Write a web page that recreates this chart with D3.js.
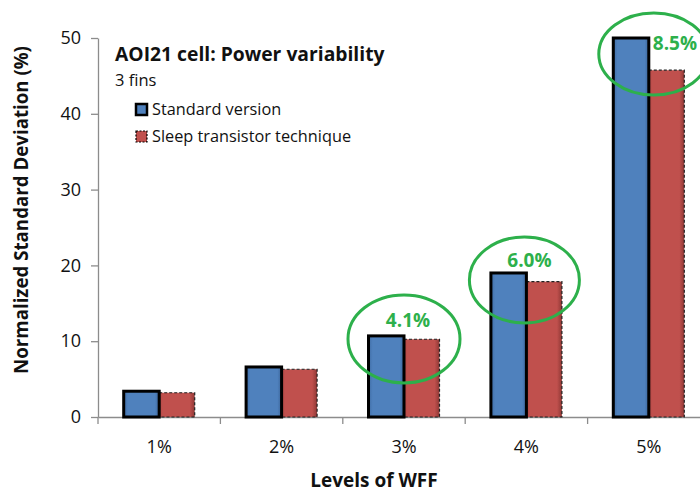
<!DOCTYPE html>
<html>
<head>
<meta charset="utf-8">
<script src="https://cdn.jsdelivr.net/npm/d3@7"></script>
<style>
  html, body { margin: 0; padding: 0; background: #fff; }
  svg { display: block; font-family: "Open Sans", sans-serif; }
</style>
</head>
<body>
<svg id="chart" width="700" height="493"></svg>
<script>
// WFF levels and normalized standard deviation of power (%)
const categories = ["1%", "2%", "3%", "4%", "5%"];
const standardValues = [3.4, 6.6, 10.7, 19.0, 50.0];
const sleepValues = [3.2, 6.3, 10.26, 17.86, 45.75];
const seriesNames = ["Standard version", "Sleep transistor technique"];
const yTicks = [0, 10, 20, 30, 40, 50];
// Reduction callouts: category and its label
const callouts = [
  { cat: "3%", text: "4.1%" },
  { cat: "4%", text: "6.0%" },
  { cat: "5%", text: "8.5%" }
];

const svg = d3.select("#chart");
const plot = { left: 98, right: 710, top: 38, bottom: 417 };
const font = "'Open Sans', sans-serif";

const x = d3.scaleBand().domain(categories).range([plot.left, plot.right]).paddingInner(0).paddingOuter(0);
const y = d3.scaleLinear().domain([0, 50]).range([plot.bottom, plot.top]);

const blue = "#4F81BD", red = "#C0504D", green = "#2DB04B";
const barW = 35.5;
const groupW = barW * 2;

// soft shading on bar edges
const defs = svg.append("defs");
const gb = defs.append("linearGradient").attr("id", "gBlue");
gb.append("stop").attr("offset", "0%").attr("stop-color", "#3f6da6");
gb.append("stop").attr("offset", "12%").attr("stop-color", blue);
gb.append("stop").attr("offset", "88%").attr("stop-color", blue);
gb.append("stop").attr("offset", "100%").attr("stop-color", "#3c659a");
const gr = defs.append("linearGradient").attr("id", "gRed");
gr.append("stop").attr("offset", "0%").attr("stop-color", "#b04744");
gr.append("stop").attr("offset", "10%").attr("stop-color", red);
gr.append("stop").attr("offset", "86%").attr("stop-color", red);
gr.append("stop").attr("offset", "100%").attr("stop-color", "#8f3835");

// Y axis
const yAxis = svg.append("g")
  .attr("transform", `translate(${plot.left},0)`)
  .call(d3.axisLeft(y).tickValues(yTicks).tickSize(7).tickSizeOuter(0).tickPadding(10));
yAxis.select(".domain").attr("stroke", "#8c8c8c").attr("stroke-width", 1.3);
yAxis.selectAll(".tick line").attr("stroke", "#8c8c8c").attr("stroke-width", 1.3);
yAxis.selectAll(".tick text").attr("font-size", 18).attr("fill", "#111").attr("font-family", font);

// X axis
const xAxis = svg.append("g")
  .attr("transform", `translate(0,${plot.bottom})`)
  .call(d3.axisBottom(x).tickSize(0).tickPadding(23));
xAxis.select(".domain").attr("stroke", "#8c8c8c").attr("stroke-width", 1.3);
xAxis.selectAll(".tick text").attr("font-size", 18).attr("fill", "#111").attr("font-family", font);
// category boundary ticks
svg.append("g").selectAll("line")
  .data(categories)
  .join("line")
  .attr("x1", d => x(d)).attr("x2", d => x(d))
  .attr("y1", plot.bottom).attr("y2", plot.bottom + 7)
  .attr("stroke", "#8c8c8c").attr("stroke-width", 1.3);

// Bars
const groups = svg.append("g");
const bars = categories.map((c, i) => ({ c, s: standardValues[i], p: sleepValues[i] }));
const bx = d => x(d.c) + x.bandwidth() / 2 - groupW / 2;

groups.selectAll("rect.sleep")
  .data(bars).join("rect").attr("class", "sleep")
  .attr("x", d => bx(d) + barW)
  .attr("y", d => y(d.p))
  .attr("width", barW)
  .attr("height", d => y(0) - y(d.p))
  .attr("fill", "url(#gRed)")
  .attr("stroke", "#222").attr("stroke-width", 1.2).attr("stroke-dasharray", "3,2");

groups.selectAll("rect.std")
  .data(bars).join("rect").attr("class", "std")
  .attr("x", d => bx(d))
  .attr("y", d => y(d.s))
  .attr("width", barW)
  .attr("height", d => y(0) - y(d.s))
  .attr("fill", "url(#gBlue)")
  .attr("stroke", "#000").attr("stroke-width", 3);

// Callout ellipses around reduced bars
const calloutGeom = {
  "3%": { dx: 0, dy: 3, rx: 56, ry: 44, tx: 4, ty: -9, anchor: "middle" },
  "4%": { dx: -2, dy: 7, rx: 55, ry: 43, tx: 3, ty: -6, anchor: "middle" },
  "5%": { dx: 5, dy: 16, rx: 55, ry: 41, tx: 4, ty: 12, anchor: "start" }
};
callouts.forEach(co => {
  const i = categories.indexOf(co.cat);
  const g = calloutGeom[co.cat];
  const cx = x(co.cat) + x.bandwidth() / 2;
  const top = y(standardValues[i]);
  svg.append("ellipse")
    .attr("cx", cx + g.dx).attr("cy", top + g.dy)
    .attr("rx", g.rx).attr("ry", g.ry)
    .attr("fill", "none").attr("stroke", green).attr("stroke-width", 3);
  svg.append("text")
    .attr("x", cx + g.tx)
    .attr("y", top + g.ty)
    .attr("text-anchor", g.anchor)
    .attr("font-size", 19).attr("font-weight", "bold").attr("fill", green)
    .text(co.text);
});

// Title block and legend
svg.append("text").attr("x", 115).attr("y", 61)
  .attr("font-size", 19.3).attr("font-weight", "bold").attr("fill", "#111")
  .text("AOI21 cell: Power variability");
svg.append("text").attr("x", 115).attr("y", 86)
  .attr("font-size", 16.5).attr("fill", "#111").text("3 fins");

const legend = svg.append("g");
seriesNames.forEach((name, i) => {
  const ly = 104 + i * 27;
  legend.append("rect").attr("x", 136).attr("y", ly).attr("width", 11).attr("height", 11)
    .attr("fill", i === 0 ? "url(#gBlue)" : "url(#gRed)")
    .attr("stroke", "#000").attr("stroke-width", i === 0 ? 2.5 : 1.2)
    .attr("stroke-dasharray", i === 0 ? null : "2,1.5");
  legend.append("text").attr("x", 152).attr("y", ly + 11)
    .attr("font-size", 16.3).attr("fill", "#111").text(name);
});

// Axis titles
svg.append("text").attr("x", 374).attr("y", 487)
  .attr("text-anchor", "middle").attr("font-size", 19).attr("font-weight", "bold").attr("fill", "#111")
  .text("Levels of WFF");
svg.append("text")
  .attr("transform", "translate(28,210) rotate(-90)")
  .attr("text-anchor", "middle").attr("font-size", 18.7).attr("font-weight", "bold").attr("fill", "#111")
  .text("Normalized Standard Deviation (%)");
</script>
</body>
</html>
